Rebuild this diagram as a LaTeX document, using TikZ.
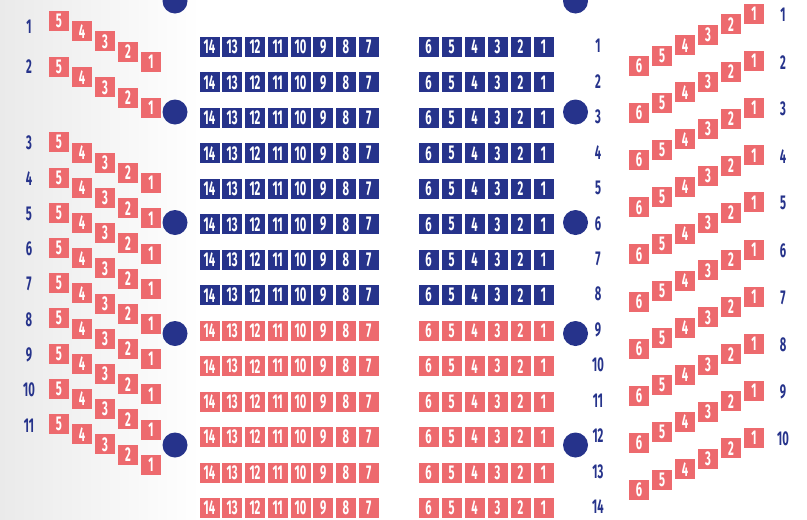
\documentclass[tikz,border=0pt]{standalone}
\usepackage{fontspec}
\newfontfamily\cond[FakeStretch=0.56]{Fira Sans}
\definecolor{seatred}{RGB}{237,106,110}
\definecolor{seatblue}{RGB}{38,51,139}
\definecolor{bggray}{RGB}{234,234,234}
\tikzset{
  seat/.style={minimum size=20pt, inner sep=0pt, text=white, font=\cond\bfseries\fontsize{20}{20}\selectfont},
  redseat/.style={seat, fill=seatred},
  blueseat/.style={seat, fill=seatblue},
  rowlabel/.style={text=seatblue, inner sep=0pt, font=\cond\bfseries\fontsize{20}{20}\selectfont},
  pillar/.style={circle, fill=seatblue, minimum size=25pt, inner sep=0pt},
}
\begin{document}
\begin{tikzpicture}[x=1pt,y=-1pt]
\useasboundingbox (0,0) rectangle (807,520);
\clip (0,0) rectangle (807,520);
\fill[white] (0,0) rectangle (807,520);
\shade[left color=bggray, right color=white] (0,0) rectangle (200,520);

% pillars
\foreach \i/\y in {1/1,2/112,3/222.5,4/333.5,5/445}{
  \node[pillar] (pl\i) at (175,\y) {};
  \node[pillar] (pr\i) at (575.5,\y) {};
}

% left wedge rows
\foreach \r/\y/\ly in {1/21/26.5,2/67/66.5,3/142.4/143,4/177.6/178.6,5/212.8/213.8,6/248/249,7/283.2/284.2,8/318.4/319.4,9/353.6/354.6,10/388.8/390,11/424/425.5}{
  \node[rowlabel] (ll\r) at (29,\ly) {\r};
  \foreach \k in {5,...,1}{
    \node[redseat] (l\r-\k) at ({59+(5-\k)*23},{\y+(5-\k)*10.2}) {\k};
  }
}

% right wedge rows
\foreach \r in {1,...,10}{
  \pgfmathsetmacro\yy{14+(\r-1)*47.1}
  \node[rowlabel] (rl\r) at (783,\yy+1) {\r};
  \foreach \k in {1,...,6}{
    \node[redseat] (r\r-\k) at ({754-(\k-1)*23},{\yy+(\k-1)*10.4}) {\k};
  }
}

% central rows
\foreach \r in {1,...,14}{
  \pgfmathsetmacro\yy{47+(\r-1)*35.46}
  \ifnum\r<9 \def\sty{blueseat}\else\def\sty{redseat}\fi
  \foreach \j in {0,...,7}{
    \pgfmathtruncatemacro\n{14-\j}
    \node[\sty] (ca\r-\n) at ({209.5+\j*22.75},\yy) {\n};
  }
  \foreach \j in {0,...,5}{
    \pgfmathtruncatemacro\n{6-\j}
    \node[\sty] (cb\r-\n) at ({428.5+\j*23},\yy) {\n};
  }
  \node[rowlabel] (cl\r) at (598,\yy-1) {\r};
}
\end{tikzpicture}
\end{document}
